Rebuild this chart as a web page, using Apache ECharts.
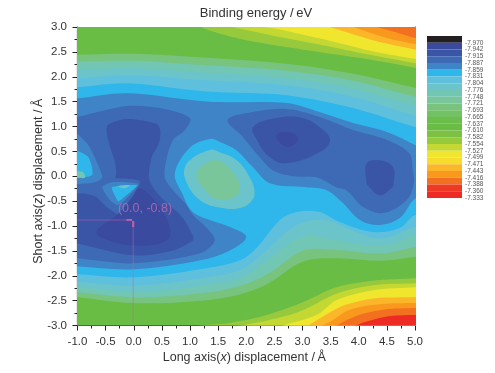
<!DOCTYPE html>
<html><head><meta charset="utf-8">
<style>html,body{margin:0;padding:0;background:#fff}#c{width:495px;height:373px}</style>
<script src="https://cdn.jsdelivr.net/npm/echarts@6/dist/echarts.min.js"></script>
</head><body><div id="c"></div>
<script>
// Colour scale: each band ends at the level shown as its label
const levelLabels = ['-7.970','-7.942','-7.915','-7.887','-7.859','-7.831','-7.804','-7.776','-7.748','-7.721','-7.693','-7.665','-7.637','-7.610','-7.582','-7.554','-7.527','-7.499','-7.471','-7.443','-7.416','-7.388','-7.360','-7.333'];
const levelColors = ['#231f20','#3a4a9f','#3b55a6','#3e69b4','#3f84c6','#2fb6ea','#5fc0dd','#6cc4cb','#72c6b4','#78c69a','#78c47e','#72c164','#6cbe4c','#69bd45','#7cc142','#97c93d','#c3d833','#f0e62e','#f6dd2b','#fbb62a','#f8991d','#f47021','#ee3a24','#ed2a24'];

// Contour lines, as [x, z] in angstrom
const topTeal5 = [[-1,2.44],[0,2.46],[1,2.4],[2.7,2.26],[3.9,2.06],[5,1.78]];
const botTeal5 = [[-1,-2.43],[0,-2.55],[1.2,-2.5],[1.9,-2.37],[2.4,-2.15],[3,-1.72],[3.6,-1.65],[4.4,-1.7],[5,-1.62]];
const topTeal4 = [[-1,2.3],[0,2.32],[1,2.25],[2.7,2.12],[3.9,1.92],[5,1.6]];
const botTeal4 = [[-1,-2.33],[0,-2.43],[1.2,-2.35],[1.9,-2.2],[2.4,-1.95],[3,-1.5],[3.6,-1.48],[4.4,-1.55],[5,-1.42]];
const topTeal3 = [[-1,2.13],[0,2.17],[1,2.1],[2.7,1.97],[3.9,1.76],[5,1.42]];
const botTeal3 = [[-1,-2.22],[0,-2.32],[1.2,-2.2],[1.9,-2.05],[2.3,-1.75],[3,-1.22],[3.6,-1.28],[4.4,-1.4],[5,-1.18]];
const topTeal2 = [[-1,1.97],[0,2.03],[1,1.95],[2.7,1.83],[3.9,1.6],[5,1.22]];
const botTeal2 = [[-1,-2.12],[0,-2.2],[1.2,-2.05],[1.9,-1.88],[2.3,-1.55],[2.9,-0.98],[3.4,-0.88],[3.9,-1.1],[4.4,-1.25],[5,-1.02]];
const topSky = [[-1,1.79],[-0.12,1.87],[1.05,1.73],[1.53,1.69],[2.72,1.63],[3.9,1.37],[5,0.99]];
const botSky = [[-1,-1.97],[0,-2.03],[1.18,-1.87],[1.89,-1.69],[2.19,-1.43],[2.6,-0.88],[2.9,-0.72],[3.3,-0.72],[3.66,-0.92],[4.25,-1.12],[4.73,-1.04],[5,-0.78]];

const blueRegion = [[-1.4,1.55],[-1,1.57],[-0.12,1.67],[1.05,1.53],[1.53,1.49],[2.72,1.47],[3.3,1.29],[3.9,1.07],[4.5,0.89],[5,0.63],[5.4,0.4],[5.4,-0.3],[5,-0.45],[4.73,-0.84],[4.37,-0.98],[4.02,-0.88],[3.72,-0.54],[3.43,-0.28],[3.07,-0.22],[2.42,-0.14],[2.12,0.18],[1.83,0.52],[1.53,0.69],[1.35,0.75],[1.0,0.58],[0.73,0.06],[0.86,-0.34],[1.05,-0.72],[1.4,-0.9],[1.71,-1.02],[2.0,-1.22],[1.71,-1.49],[1.18,-1.69],[0,-1.87],[-1,-1.81],[-1.4,-1.78]];
const royalLeft = [[-1.4,1.1],[-1,1.19],[-0.12,1.41],[0.47,1.37],[1.0,1.17],[0.91,0.93],[0.7,0.73],[0.59,0.38],[0.55,-0.02],[0.7,-0.28],[0.91,-0.54],[1.05,-0.78],[1.3,-1.04],[1.44,-1.29],[1.18,-1.55],[0,-1.75],[-1,-1.65],[-1.4,-1.6]];
const royalRight = [[1.67,1.13],[2.12,1.29],[2.72,1.35],[3.3,1.19],[3.9,0.93],[4.5,0.73],[4.9,0.46],[4.96,0.12],[4.98,-0.14],[4.85,-0.48],[4.43,-0.74],[4.08,-0.62],[3.78,-0.28],[3.6,-0.22],[3.25,-0.02],[2.83,0],[2.47,0.12],[2.24,0.38],[1.94,0.79]];
const deepCentre = [[-0.12,1.15],[0.41,1.05],[0.47,0.93],[0.45,0.67],[0.32,0.38],[0.27,-0.04],[0.38,-0.28],[0.59,-0.54],[0.86,-0.82],[1.05,-1.19],[1.05,-1.29],[0.7,-1.49],[0,-1.59],[-1,-1.35],[-1.4,-1.25],[-1.4,-0.35],[-1,-0.35],[-0.55,-0.25],[-0.33,-0.04],[-0.33,0.26],[-0.42,0.59],[-0.48,0.87],[-0.46,1.03]];
const deepRight = [[2.12,0.99],[2.54,1.17],[3.0,1.17],[3.3,0.99],[3.49,0.73],[3.3,0.48],[2.72,0.26],[2.42,0.38],[2.19,0.73]];
const deepFar = [[4.14,0.26],[4.37,0.32],[4.61,0.18],[4.62,-0.14],[4.6,-0.22],[4.37,-0.38],[4.16,-0.18],[4.14,-0.14]];
const coreCentre = [[0.11,-0.24],[0.41,-0.54],[0.64,-1.02],[0.59,-1.29],[-0.01,-1.39],[-0.6,-1.22],[-0.65,-1.08],[-0.3,-0.78],[-0.03,-0.42]];
const coreRight = [[2.54,0.83],[2.74,0.89],[2.92,0.77],[2.77,0.59],[2.6,0.67]];

const bumpTeal = [[1.35,0.53],[0.96,0.28],[0.91,-0.04],[1.18,-0.48],[1.58,-0.64],[1.89,-0.64],[2.06,-0.54],[2.15,-0.34],[2.06,-0.02],[1.83,0.32],[1.53,0.48]];
const bumpGreen = [[1.18,0.18],[1.48,0.32],[1.76,0.08],[1.89,-0.24],[1.74,-0.44],[1.44,-0.44],[1.23,-0.22],[1.12,-0.02]];

const notchRoyal = [[-1.2,-0.16],[-0.56,-0.1],[-0.39,-0.04],[0.11,-0.1],[-0.07,-0.54],[-0.21,-0.8],[-0.46,-0.64],[-0.69,-0.4],[-1.2,-0.28]];
const notchBlue = [[-0.56,-0.22],[-0.39,-0.12],[0.08,-0.16],[-0.16,-0.48],[-0.28,-0.58],[-0.42,-0.48]];
const notchSky = [[-0.39,-0.22],[0.06,-0.18],[-0.19,-0.44],[-0.28,-0.5]];
const notchTeal = [[-0.28,-0.2],[-0.07,-0.18],[-0.16,-0.24]];
const edgeBlue = [[-1.3,0.95],[-1.05,0.89],[-0.81,0.63],[-0.69,0.37],[-0.56,-0.02],[-0.69,-0.12],[-1.05,-0.16],[-1.3,-0.18]];
const edgeSky = [[-1.3,0.6],[-1.05,0.53],[-0.81,0.39],[-0.74,0.03],[-1.05,-0.04],[-1.3,-0.05]];
const edgeTeal = [[-1.3,0.12],[-1.02,0.1],[-0.9,0.08],[-0.87,-0.03],[-1.02,-0.03],[-1.3,-0.03]];

const cornerLimeGreen = [[0.9,3.3],[1.2,3.0],[1.9,2.76],[3,2.55],[4,2.38],[5,2.18],[5.5,2.05],[5.8,3.8],[0.8,3.8]];
const cornerLime = [[1.3,3.2],[2.3,2.87],[3.3,2.65],[4.2,2.44],[5,2.27],[5.5,2.15],[5.8,3.8],[1.2,3.8]];
const cornerYellow = [[2.0,3.12],[2.6,2.95],[3.5,2.72],[4.3,2.5],[5,2.36],[5.5,2.25],[5.8,3.8],[1.9,3.8]];
const cornerAmber = [[3.2,3.12],[3.49,3.0],[4.3,2.72],[5,2.55],[5.5,2.42],[5.8,3.8],[3.1,3.8]];
const cornerOrange = [[3.65,3.12],[3.9,3.0],[4.5,2.78],[5,2.66],[5.5,2.55],[5.8,3.8],[3.6,3.8]];
const cornerRedOrange = [[4.05,3.12],[4.32,3.0],[4.7,2.88],[5,2.78],[5.5,2.68],[5.8,3.8],[4,3.8]];

const lowLimeGreen = [[0.8,-3.1],[1.2,-3],[1.7,-2.95],[2.3,-2.81],[2.95,-2.56],[3.6,-2.23],[4.25,-2.1],[5,-2.05],[5.5,-2.02],[5.8,-3.8],[0.7,-3.8]];
const lowLime = [[1.5,-3.1],[1.9,-3],[2.3,-2.92],[2.95,-2.72],[3.6,-2.36],[4.25,-2.19],[5,-2.15],[5.5,-2.12],[5.8,-3.8],[1.4,-3.8]];
const lowYellow = [[2.4,-3.1],[2.65,-3],[3.25,-2.79],[3.6,-2.49],[4.25,-2.29],[5,-2.23],[5.5,-2.2],[5.8,-3.8],[2.3,-3.8]];
const lowAmber = [[2.9,-3.12],[3.1,-3],[3.35,-2.83],[3.75,-2.59],[4.3,-2.45],[5,-2.43],[5.5,-2.41],[5.8,-3.8],[2.8,-3.8]];
const lowOrange = [[3.15,-3.12],[3.35,-3],[3.5,-2.92],[3.85,-2.68],[4.4,-2.57],[5,-2.55],[5.5,-2.54],[5.8,-3.8],[3.05,-3.8]];
const lowRedOrange = [[3.4,-3.12],[3.6,-3],[4.0,-2.79],[4.46,-2.68],[5,-2.65],[5.5,-2.64],[5.8,-3.8],[3.3,-3.8]];
const lowRed = [[3.75,-3.12],[3.95,-3],[4.14,-2.92],[4.56,-2.81],[5,-2.79],[5.5,-2.78],[5.8,-3.8],[3.65,-3.8]];

const background = [[-2,-4],[6,-4],[6,4],[-2,4]];

// Marked minimum and its drop lines
const minimumLabel = '(0.0, -0.8)';
const minimumLabelAt = [0.2, -0.64];
const dropH = [[-1,-0.88],[-0.1,-0.88]];
const dropV = [[-0.01,-0.92],[-0.01,-3]];
const dropHHead = [[-0.13,-0.88],[-0.03,-0.88]];
const dropVHead = [[-0.01,-0.9],[-0.01,-1.02]];

const xTicks = {min:-1, max:5, interval:0.5};
const zTicks = {min:-3, max:3, interval:0.5};

function band(top, bottom){
  const t0=top[0], t1=top[top.length-1], b0=bottom[0], b1=bottom[bottom.length-1];
  return [[t0[0]-0.4,t0[1]-0.02],...top,[t1[0]+0.4,t1[1]-0.08],[b1[0]+0.4,b1[1]+0.08],...bottom.slice().reverse(),[b0[0]-0.4,b0[1]+0.02]];
}
function c(label){ return levelColors[levelLabels.indexOf(label)]; }

// Painted in order, each covering what lies below it
const layers = [
  ['-7.610',background,0],
  ['-7.554',cornerLimeGreen,.3],['-7.527',cornerLime,.3],['-7.499',cornerYellow,.3],['-7.443',cornerAmber,.3],['-7.416',cornerOrange,.3],['-7.388',cornerRedOrange,.3],
  ['-7.554',lowLimeGreen,.3],['-7.527',lowLime,.3],['-7.499',lowYellow,.3],['-7.443',lowAmber,.3],['-7.416',lowOrange,.3],['-7.388',lowRedOrange,.3],['-7.333',lowRed,.3],
  ['-7.693',band(topTeal5,botTeal5),.35],['-7.748',band(topTeal4,botTeal4),.35],['-7.776',band(topTeal3,botTeal3),.35],['-7.804',band(topTeal2,botTeal2),.35],
  ['-7.831',band(topSky,botSky),.35],
  ['-7.859',blueRegion,.35],
  ['-7.776',bumpTeal,.4],['-7.721',bumpGreen,.4],
  ['-7.887',royalLeft,.3],['-7.887',royalRight,.35],
  ['-7.915',deepCentre,.3],['-7.915',deepRight,.4],['-7.915',deepFar,.4],
  ['-7.887',notchRoyal,.2],['-7.859',notchBlue,.2],['-7.831',notchSky,.15],['-7.776',notchTeal,.3],
  ['-7.859',edgeBlue,.25],['-7.831',edgeSky,.25],['-7.748',edgeTeal,.3],
  ['-7.942',coreCentre,.4],['-7.942',coreRight,.4]
];
const contourSeries = layers.map(([level,pts,sm])=>({
  type:'custom', name:level, xAxisIndex:0, yAxisIndex:0, clip:true, silent:true,
  data:pts, encode:{x:0,y:1},
  renderItem(params,api){
    if(params.dataIndex!==0) return null;
    return {type:'polygon', shape:{points:pts.map(p=>api.coord(p)), smooth:sm}, style:{fill:c(level)}};
  }
}));
const pink='#c562a8';
function pinkLine(d,w,o){return {type:'line',data:d,xAxisIndex:0,yAxisIndex:0,symbol:'none',silent:true,clip:true,lineStyle:{color:pink,width:w,opacity:o},z:5};}

const font='"Liberation Sans", Arial, sans-serif', ink='#333333';
const ax=(extra)=>Object.assign({type:'value',gridIndex:0,splitLine:{show:false}},extra);
const mainAxis=(t,extra)=>ax(Object.assign({min:t.min,max:t.max,interval:t.interval,
  axisLine:{show:true,onZero:false,lineStyle:{color:'#222',width:1.2}},
  axisTick:{show:true,length:5,lineStyle:{color:'#222',width:1}},
  minorTick:{show:true,splitNumber:2,length:3,lineStyle:{color:'#222',width:1}},
  axisLabel:{color:ink,fontFamily:font,fontSize:11.5,margin:10.5,formatter:v=>v.toFixed(1),showMinLabel:true,showMaxLabel:true},
  nameLocation:'middle',nameMoveOverlap:false
},extra));
const nameStyle=(pad)=>({color:ink,fontFamily:font,fontSize:12.5,padding:pad,rich:{i:{fontStyle:'italic',fontFamily:font,fontSize:12.5,color:ink}}});
const frameAxis=(t,pos)=>ax({min:t.min,max:t.max,position:pos,axisLine:{show:true,onZero:false,lineStyle:{color:'#555',width:1}},axisTick:{show:false},axisLabel:{show:false}});

const chart=echarts.init(document.getElementById('c'),null,{renderer:'canvas'});
chart.setOption({
  animation:false,
  backgroundColor:'#fff',
  title:{text:'Binding energy /\u2009eV',left:256,top:7,padding:0,textAlign:'center',textStyle:{color:ink,fontFamily:font,fontSize:13,fontWeight:'normal'}},
  grid:[{left:77.5,top:27,width:337.5,height:298.5,outerBoundsMode:'none'},{left:427,top:36,width:35,height:162,outerBoundsMode:'none'}],
  xAxis:[
    mainAxis(xTicks,{position:'bottom',name:'Long axis({i|x}) displacement /\u2009Å',nameGap:26,nameTextStyle:nameStyle([0,4,0,0])}),
    {type:'value',gridIndex:1,min:0,max:1,show:false},
    frameAxis(xTicks,'top')
  ],
  yAxis:[
    mainAxis(zTicks,{position:'left',name:'Short axis({i|z}) displacement /\u2009Å',nameGap:32,nameRotate:90,nameTextStyle:nameStyle([0,10,0,0])}),
    {type:'category',gridIndex:1,inverse:true,data:levelLabels,position:'right',axisLine:{show:false},axisTick:{show:false},
     axisLabel:{interval:0,color:'#555',fontFamily:font,fontSize:6.5,margin:3,verticalAlign:'top'}},
    frameAxis(zTicks,'right')
  ],
  series:[
    ...contourSeries,
    pinkLine(dropH,1,.5),pinkLine(dropV,1,.5),pinkLine(dropHHead,2,.9),pinkLine(dropVHead,2.2,.9),
    {type:'scatter',data:[minimumLabelAt],xAxisIndex:0,yAxisIndex:0,symbolSize:0,silent:true,z:6,
     label:{show:true,position:'inside',formatter:minimumLabel,color:'#bd6db4',fontFamily:font,fontSize:12.5}},
    {type:'bar',xAxisIndex:1,yAxisIndex:1,barWidth:'100%',silent:true,
     data:levelLabels.map((l,i)=>({value:1,itemStyle:{color:levelColors[i]}}))}
  ]
});
</script></body></html>
